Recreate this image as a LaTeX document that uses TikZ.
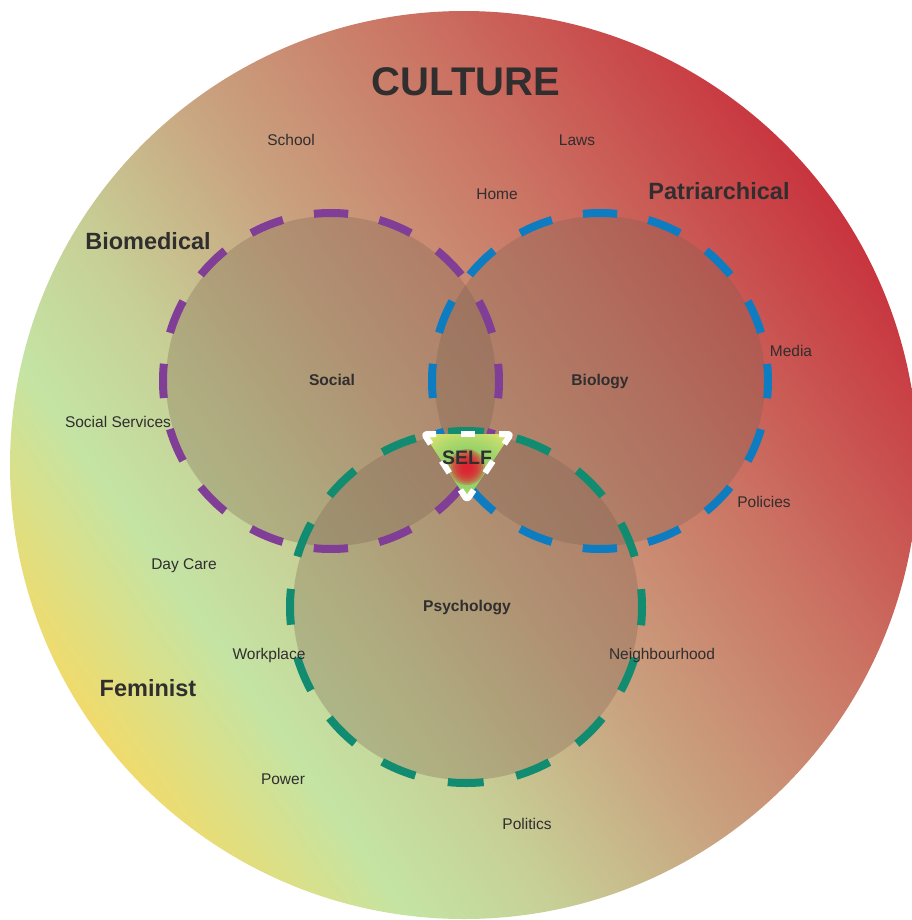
\documentclass[tikz,border=0pt]{standalone}
\usepackage{fontspec}
\setmainfont{Liberation Sans}
\usetikzlibrary{calc}

% palette
\definecolor{cultYellow}{RGB}{240,219,108}
\definecolor{cultGreen}{RGB}{196,228,164}
\definecolor{cultSage}{RGB}{199,208,150}
\definecolor{cultTan}{RGB}{201,163,128}
\definecolor{cultSalmon}{RGB}{203,116,100}
\definecolor{cultRed}{RGB}{200,52,62}
\definecolor{discFill}{RGB}{120,95,80}
\definecolor{socialPurple}{RGB}{128,62,150}
\definecolor{biologyBlue}{RGB}{14,124,192}
\definecolor{psychTeal}{RGB}{18,140,113}
\definecolor{inkgray}{RGB}{48,46,46}
\definecolor{glowRed}{RGB}{225,28,46}
\definecolor{glowGreen}{RGB}{150,210,106}
\definecolor{glowYellow}{RGB}{226,228,110}

% background of the culture disc, left (yellow) to right (red)
\pgfdeclarehorizontalshading{culture}{100bp}{%
  color(0bp)=(cultYellow); color(25bp)=(cultYellow);
  color(33.25bp)=(cultGreen); color(40bp)=(cultSage);
  color(49.5bp)=(cultTan); color(61.25bp)=(cultSalmon);
  color(75bp)=(cultRed); color(100bp)=(cultRed)}

% green to yellow body of the SELF triangle
\pgfdeclareradialshading{selfbody}{\pgfpointorigin}{%
  color(0bp)=(glowGreen); color(14bp)=(glowGreen);
  color(24bp)=(glowGreen!55!glowYellow);
  color(33bp)=(glowYellow); color(50bp)=(glowYellow)}

\begin{document}
\begin{tikzpicture}[x=1pt,y=-1pt,
  disc/.style={fill=discFill, fill opacity=0.3},
  ring/.style={draw=#1, line width=8pt},
  ringA/.style={dash pattern=on 34.3pt off 31.67pt, dash phase=17.15pt},
  ringB/.style={dash pattern=on 35.9pt off 33.2pt, dash phase=17.95pt},
  wdash/.style={draw=white, line width=6pt, rounded corners=3pt, line join=round},
  lbl/.style={text=inkgray, inner sep=0pt, text depth=0pt,
    font=\fontsize{15.5}{18}\selectfont, text height=11.1pt},
  sub/.style={text=inkgray, inner sep=0pt, text depth=0pt,
    font=\bfseries\fontsize{15.6}{18}\selectfont, text height=11.2pt},
  lens/.style={text=inkgray, inner sep=0pt, text depth=0pt,
    font=\bfseries\fontsize{23.5}{28}\selectfont, text height=16.8pt},
  title/.style={text=inkgray, inner sep=0pt, text depth=0pt,
    font=\bfseries\fontsize{40}{46}\selectfont, text height=28.6pt}
]
\useasboundingbox (0,0) rectangle (911,920);
\fill[white] (0,0) rectangle (911,920);

% culture disc
\shade[shading=culture, shading angle=35] (464,465) circle [radius=454pt];

% the three overlapping fields
\coordinate (cSoc) at (331,381);
\coordinate (cBio) at (600,381);
\coordinate (cPsy) at (466,607);
\fill[disc] (cSoc) circle [radius=165pt];
\fill[disc] (cBio) circle [radius=165pt];
\fill[disc] (cPsy) circle [radius=173pt];
\draw[ring=socialPurple, ringA] (cSoc) circle [radius=168pt];
\draw[ring=biologyBlue, ringA] (cBio) circle [radius=168pt];
\draw[ring=psychTeal, ringB] (cPsy) circle [radius=176pt];

% labels
\node[title] (culture) at (466,81) {CULTURE};
\node[lbl] (school) at (291,140) {School};
\node[lbl] (laws) at (577,140) {Laws};
\node[lbl] (home) at (497,194) {Home};
\node[lens] (patri) at (719,191) {Patriarchical};
\node[lens] (biomed) at (148,241) {Biomedical};
\node[sub] (social) at (332,380) {Social};
\node[sub] (biology) at (600,380) {Biology};
\node[lbl] (media) at (791,351) {Media};
\node[lbl] (socserv) at (118,422) {Social Services};
\node[lbl] (policies) at (764,502) {Policies};
\node[lbl] (daycare) at (184,564) {Day Care};
\node[sub] (psych) at (467,606) {Psychology};
\node[lbl] (workplace) at (269,654) {Workplace};
\node[lbl] (neigh) at (662,654) {Neighbourhood};
\node[lens] (feminist) at (148,688) {Feminist};
\node[lbl] (power) at (283,779) {Power};
\node[lbl] (politics) at (527,824) {Politics};

% SELF triangle
\coordinate (A) at (424,434);
\coordinate (B) at (511,434);
\coordinate (C) at (467,500);
\coordinate (core) at (467,467);
\begin{scope}
  \clip[rounded corners=5pt] (A) -- (B) -- (C) -- cycle;
  \shade[shading=selfbody] (A) -- (B) -- (C) -- cycle;
  % soft red core, built from stacked translucent discs
  \foreach \rr in {4,6,...,18}
    \fill[glowRed, fill opacity=0.3] (core) circle [radius=\rr pt];
\end{scope}
\draw[wdash] ($(A)!12pt!(B)$) -- (A) -- ($(A)!12pt!(C)$);
\draw[wdash] ($(B)!12pt!(A)$) -- (B) -- ($(B)!12pt!(C)$);
\draw[wdash] ($(C)!12pt!(A)$) -- (C) -- ($(C)!12pt!(B)$);
\coordinate (mAB) at ($(A)!0.5!(B)$);
\coordinate (mBC) at ($(B)!0.5!(C)$);
\coordinate (mCA) at ($(C)!0.5!(A)$);
\draw[wdash] ($(mAB)!7pt!(A)$) -- ($(mAB)!7pt!(B)$);
\draw[wdash] ($(mBC)!7pt!(B)$) -- ($(mBC)!7pt!(C)$);
\draw[wdash] ($(mCA)!7pt!(C)$) -- ($(mCA)!7pt!(A)$);
\node[text=inkgray, inner sep=0pt, text depth=0pt, text height=14pt,
  font=\bfseries\fontsize{19.5}{22}\selectfont] (self) at (467,457) {SELF};
\end{tikzpicture}
\end{document}
